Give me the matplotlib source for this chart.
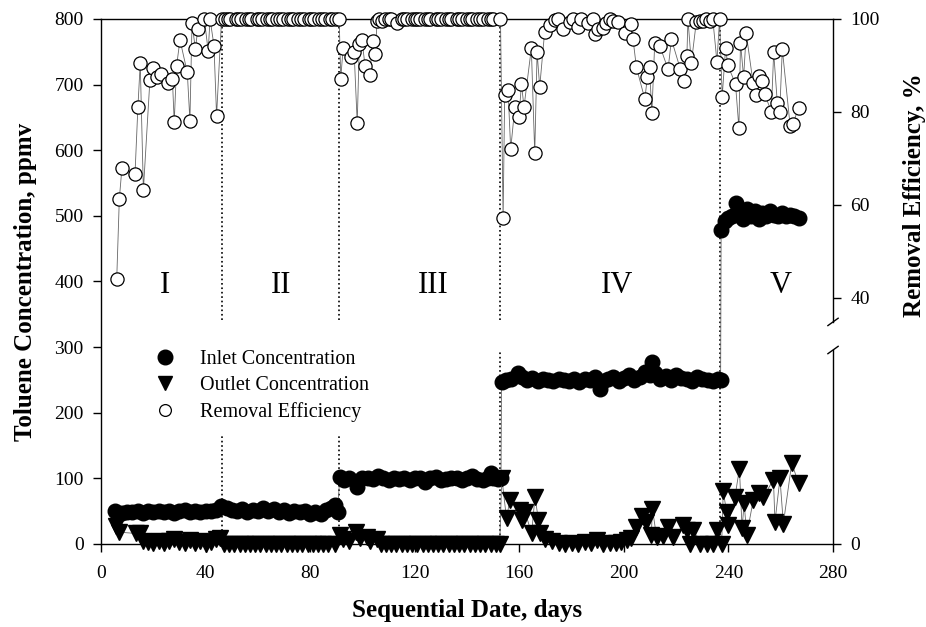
import numpy as np
import matplotlib.pyplot as plt
from matplotlib.lines import Line2D

plt.rcParams['font.family'] = ['Liberation Serif', 'DejaVu Serif']

# Removal efficiency (%), right axis
re_day = [6.0, 7.0, 8.0, 13.0, 14.1, 15.0, 16.2, 18.7, 20.0, 21.3, 22.9, 25.7, 27.3,
          28.0, 28.9, 30.2, 33.0, 34.0, 34.8, 36.1, 37.0, 39.5, 41.0, 41.7, 43.2, 44.2,
          46.1, 47.5, 48.5, 49.5, 51.5, 52.5, 53.5, 55.5, 56.5, 57.5, 59.5, 60.5, 61.5,
          63.5, 64.5, 65.5, 67.5, 68.5, 69.5, 71.5, 72.5, 73.5, 75.5, 76.5, 77.5, 79.5,
          80.5, 81.5, 83.5, 84.5, 85.5, 87.5, 88.5, 90.0,
          91.1, 91.7, 92.6, 95.8, 96.8, 98.0, 98.8, 99.8, 101.0, 102.8, 103.9, 104.9,
          105.6, 106.5, 107.5, 108.5, 110, 111, 113.3, 115, 116, 117, 119, 120, 121, 122,
          124, 125, 126, 128, 129, 130, 132, 133, 134, 136, 137, 138, 140, 141, 142, 144,
          145, 146, 148, 149, 150, 152.8,
          153.8, 154.4, 155.7, 156.7, 158.3, 159.9, 160.8, 161.8, 164.6, 165.9, 166.8,
          167.8, 169.7, 171.6, 173.5, 174.8, 176.7, 179.3, 180.5, 182.5, 183.7, 186.3,
          188.2, 188.8, 190.1, 192.0, 193.3, 194.6, 195.8, 197.8, 200.3, 202.6, 203.5,
          204.8, 208.0, 209.0, 209.8, 210.7, 211.8, 213.7, 216.9, 218.2, 221.6, 223.0,
          224.1, 224.5, 225.8, 227.7, 229.0, 230.2, 231.5, 232.8, 234.0, 235.6, 236.6,
          237.6, 238.9, 239.8, 242.7, 244.0, 244.6, 245.8, 246.8, 249.4, 250.4, 251.7,
          252.9, 253.8, 256.4, 257.3, 258.7, 259.6, 260.6, 263.6, 264.6, 266.8]
re_val = [44.0, 61.3, 68.0, 66.7, 81.0, 90.5, 63.2, 86.9, 89.4, 87.5, 88.2, 86.3, 87.1,
          77.8, 89.9, 95.5, 88.5, 78.1, 99.1, 93.5, 97.8, 100, 93.1, 100, 94.3, 79.2,
          100, 100, 100, 100, 100, 100, 100, 100, 100, 100, 100, 100, 100,
          100, 100, 100, 100, 100, 100, 100, 100, 100, 100, 100, 100, 100,
          100, 100, 100, 100, 100, 100, 100, 100,
          100, 87.2, 93.7, 91.8, 93.0, 77.6, 94.6, 95.5, 89.9, 88.0, 95.3, 92.4,
          99.6, 100, 99.5, 100, 100, 100, 99.2, 100, 100, 100, 100, 100, 100, 100,
          100, 100, 100, 100, 100, 100, 100, 100, 100, 100, 100, 100, 100, 100, 100, 100,
          100, 100, 100, 100, 100, 100,
          57.1, 83.7, 84.7, 72.0, 81.1, 79.0, 86.0, 81.1, 93.7, 71.1, 92.8,
          85.4, 97.3, 98.7, 99.8, 100, 97.8, 99.4, 100, 98.2, 100, 99.2,
          100, 96.8, 97.8, 98.0, 99.1, 100, 99.6, 99.4, 96.9, 98.9, 95.6,
          89.6, 82.8, 87.5, 89.7, 79.7, 94.9, 94.3, 89.2, 95.6, 89.2, 86.7,
          92.0, 100, 90.5, 99.4, 99.6, 99.5, 100, 99.6, 100, 90.8, 100,
          83.3, 93.7, 90.0, 86.0, 76.5, 94.9, 87.5, 96.9, 86.3, 83.7, 87.7,
          86.7, 83.9, 80.1, 92.8, 81.9, 79.9, 93.5, 77.0, 77.4, 80.8]

# Inlet concentration (ppmv)
inlet_day = [5.5, 8, 10, 12, 14, 16, 18, 20, 22, 24, 26, 28, 30, 32, 34, 36, 38, 40,
             42, 44, 46, 48, 50, 52, 54, 56, 58, 60, 62, 64, 66, 68, 70, 72, 74, 76,
             78, 80, 82, 84, 86, 88, 89.5, 90.5,
             91.3, 93, 95, 97.8, 100, 102, 104, 106, 108, 110, 112, 114, 116, 118, 120,
             122, 124, 126, 128, 130, 132, 134, 136, 138, 140, 142, 144, 146, 148, 149,
             150, 152, 153,
             153.2, 155, 157, 159.5, 161, 163, 165, 167, 169, 171, 173, 175, 177, 179,
             181, 183, 185, 187, 189, 190.7, 192, 194, 196, 198, 200, 202, 204, 206,
             208, 210, 210.9, 212, 214, 216, 218, 220, 222, 224, 226, 228, 230, 232,
             234, 236, 237,
             237.2, 238.5, 240, 241.5, 242.7, 244, 245.5, 247, 248.5, 250, 251.5, 253,
             254.5, 256, 257.5, 259, 260.5, 262, 263.5, 265, 267]
inlet_ppmv = [50, 47, 49, 48, 50, 47, 51, 49, 50, 48, 51, 47, 50, 52, 49, 50, 48, 51,
              50, 52, 58, 55, 52, 50, 53, 49, 52, 51, 55, 50, 53, 49, 52, 47, 50, 48,
              51, 46, 49, 45, 52, 55, 60, 48,
              102, 98, 100, 87, 100, 101, 99, 103, 100, 98, 101, 99, 100, 97, 101,
              100, 94, 100, 102, 97, 99, 101, 100, 98, 100, 103, 99, 98, 101, 108,
              100, 99, 101,
              247, 250, 252, 260, 255, 250, 253, 249, 251, 250, 248, 252, 250, 249,
              251, 247, 252, 250, 255, 236, 248, 252, 255, 249, 253, 258, 250, 255,
              262, 258, 278, 260, 252, 256, 250, 258, 253, 252, 248, 255, 252, 250,
              248, 252, 250,
              479, 492, 497, 500, 520, 505, 495, 510, 500, 508, 495, 505,
              500, 508, 502, 500, 505, 500, 502, 500, 497]

# Outlet concentration (ppmv)
outlet_day = [5.8, 7, 13.5, 15, 16.2, 18, 20, 22, 24, 26, 28, 30, 32, 34, 36, 38, 40,
              42, 44, 45.5,
              47, 49, 51, 53, 55, 57, 59, 61, 63, 65, 67, 69, 71, 73, 75, 77, 79, 81,
              83, 85, 87, 89.5,
              91.4, 92.5, 95, 97.7, 99, 101.6, 103, 105.4, 107, 109, 111, 113, 115, 117,
              119, 121, 123, 125, 127, 129, 131, 133, 135, 137, 139, 141, 143, 145, 147,
              149, 151, 152.5,
              153.3, 155.1, 156.4, 160.3, 160.9, 162.2, 164.7, 166.0, 167.3, 167.9,
              169.8, 172.4, 175, 177.5, 180, 182.5, 185, 187.5, 189.6, 192, 194.5, 197,
              199, 201, 202.9, 204.8, 207.1, 208.6, 210.5, 210.9, 212.5, 215, 217,
              218.9, 222.7, 224, 225.3, 226.6, 229.1, 231.7, 234.2, 235.5, 237.4,
              238, 239.3, 239.8, 242.5, 244.2, 245.2, 246, 247, 249.5, 251.5, 253.4,
              257.2, 257.8, 259.7, 261, 264.2, 266.8]
outlet_ppmv = [27, 18, 16, 17, 5, 3, 1, 4, 2, 5, 8, 3, 2, 6, 1, 4, 0, 3, 7, 9,
               0, 0, 0, 0, 0, 0, 0, 0, 0, 0, 0, 0, 0, 0, 0, 0, 0, 0, 0, 0, 0, 0,
               13, 8, 5, 18, 9, 11, 4, 7, 0, 0, 0, 0, 0, 0,
               0, 0, 0, 0, 0, 0, 0, 0, 0, 0, 0, 0, 0, 0, 0,
               0, 0, 0,
               101, 39, 67, 52, 37, 49, 16, 72, 37, 16,
               7, 4, 1, 0, 2, 0, 3, 1, 6, 0, 2, 1,
               3, 6, 9, 26, 42, 34, 14, 54, 11, 12, 26,
               10, 29, 21, 0, 22, 0, 0, 0, 22, 0,
               80, 49, 29, 72, 115, 24, 62, 14, 67, 77, 72,
               98, 34, 100, 31, 123, 93]

phase_bounds = [46.1, 91.1, 152.8, 236.9]
phase_names = ['I', 'II', 'III', 'IV', 'V']
phase_name_day = [24.5, 69, 127, 197.3, 260]

fig = plt.figure(figsize=(9.26, 6.27), dpi=100)
ax1 = fig.add_axes([0.1091, 0.1324, 0.7905, 0.8373])
ax2 = ax1.twinx()

line_kw = dict(color='0.4', lw=0.6)

# phase boundaries (dotted, broken around the labels/legend)
gaps = [(166, 341), (166, 341), (296, 341), None]
for d, g in zip(phase_bounds, gaps):
    if g is None:
        ax1.plot([d, d], [0, 800], ':', color='k', lw=1.2, zorder=1)
    else:
        ax1.plot([d, d], [0, g[0]], ':', color='k', lw=1.2, zorder=1)
        ax1.plot([d, d], [g[1], 800], ':', color='k', lw=1.2, zorder=1)

ax1.plot(inlet_day, inlet_ppmv, '-', marker='o', ms=10.5, mfc='k', mec='k',
         zorder=3, clip_on=False, **line_kw)
ax1.plot(outlet_day, outlet_ppmv, '-', marker='v', ms=11, mfc='k', mec='k',
         zorder=3, clip_on=False, **line_kw)

for d, name in zip(phase_name_day, phase_names):
    ax1.text(d, 382, name, ha='center', va='baseline', fontsize=22)

ax1.set_xlim(0, 280)
ax1.set_ylim(0, 800)
ax1.set_xticks(np.arange(0, 281, 40))
ax1.set_yticks(np.arange(0, 801, 100))
ax1.tick_params(axis='y', direction='out', length=5.5, width=1, pad=7, labelsize=14)
ax1.tick_params(axis='x', direction='out', length=6, width=1, pad=9, labelsize=14)
ax1.set_xlabel('Sequential Date, days', fontsize=18, fontweight='bold')
ax1.xaxis.set_label_coords(0.5, -0.105)
ax1.set_ylabel('Toluene Concentration, ppmv', fontsize=18, fontweight='bold')
ax1.yaxis.set_label_coords(-0.087, 0.5)
ax1.spines['right'].set_visible(False)
for s in ['left', 'top', 'bottom']:
    ax1.spines[s].set_linewidth(1)


# broken right axis: 40-100 linear, compressed below 40
def fwd(v):
    v = np.asarray(v, dtype=float)
    return np.where(v >= 40, v, 40 + (v - 40) * 1.3225)


def inv(v):
    v = np.asarray(v, dtype=float)
    return np.where(v >= 40, v, 40 + (v - 40) / 1.3225)


ax2.set_yscale('function', functions=(fwd, inv))
ax2.plot(re_day, re_val, '-', marker='o', ms=9.5, mfc='white', mec='k', mew=0.9,
         zorder=3, clip_on=False, **line_kw)
ax2.set_ylim(0, 100)
ax2.set_yticks([0, 40, 60, 80, 100])
ax2.set_yticklabels(['0', '40', '60', '80', '100'])
ax2.minorticks_off()
ax2.tick_params(axis='y', direction='out', length=5.5, width=1, pad=7, labelsize=14)
for s in ['left', 'top', 'bottom', 'right']:
    ax2.spines[s].set_visible(False)
ax2.plot([1, 1], [0, 0.3695], transform=ax2.transAxes, color='k', lw=1, clip_on=False)
ax2.plot([1, 1], [0.423, 1], transform=ax2.transAxes, color='k', lw=1, clip_on=False)
for yb in [0.3695, 0.423]:
    ax2.plot([0.993, 1.007], [yb - 0.007, yb + 0.007], transform=ax2.transAxes,
             color='k', lw=1, clip_on=False)
ax2.set_ylabel('Removal Efficiency, %', fontsize=18, fontweight='bold')
ax2.yaxis.set_label_coords(1.096, 0.665)

handles = [
    Line2D([], [], ls='none', marker='o', ms=10.5, mfc='k', mec='k'),
    Line2D([], [], ls='none', marker='v', ms=10.5, mfc='k', mec='k'),
    Line2D([], [], ls='none', marker='o', ms=8.5, mfc='white', mec='k', mew=0.9),
]
labels = ['Inlet Concentration', 'Outlet Concentration', 'Removal Efficiency']
ax2.legend(handles, labels, loc='upper left', bbox_to_anchor=(0.0738, 0.370),
           frameon=False, fontsize=14.5, handlelength=1.0, handletextpad=1.25,
           labelspacing=0.35, borderpad=0, borderaxespad=0)

fig.savefig('out.png', dpi=100)
